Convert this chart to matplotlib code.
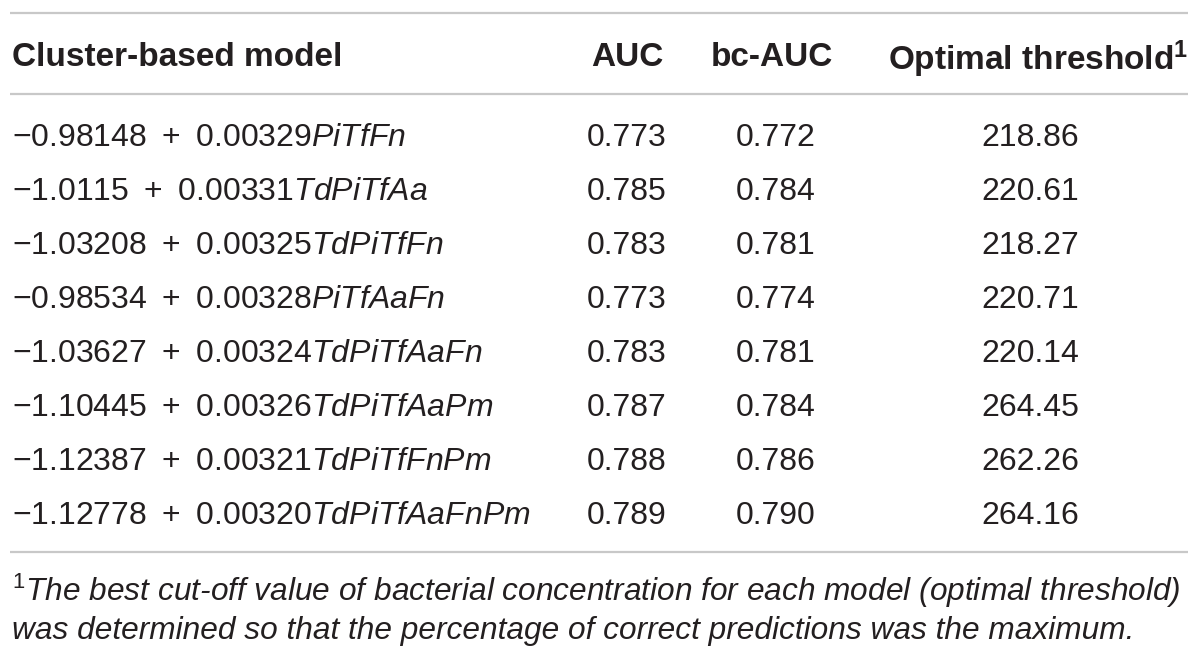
import matplotlib
matplotlib.use("Agg")
import matplotlib.pyplot as plt

plt.rcParams['mathtext.fontset'] = 'custom'
plt.rcParams['mathtext.rm'] = 'Liberation Sans'
plt.rcParams['mathtext.it'] = 'Liberation Sans:italic'
plt.rcParams['mathtext.bf'] = 'Liberation Sans:bold'
plt.rcParams['font.family'] = ['Liberation Sans', 'DejaVu Sans']

headers = ["Cluster-based model", "AUC", "bc-AUC", r"Optimal threshold$^{\mathbf{1}}$"]
intercepts = ["\u22120.98148", "\u22121.0115", "\u22121.03208", "\u22120.98534",
              "\u22121.03627", "\u22121.10445", "\u22121.12387", "\u22121.12778"]
coefs = ["0.00329", "0.00331", "0.00325", "0.00328", "0.00324", "0.00326", "0.00321", "0.00320"]
variables = ["PiTfFn", "TdPiTfAa", "TdPiTfFn", "PiTfAaFn", "TdPiTfAaFn",
             "TdPiTfAaPm", "TdPiTfFnPm", "TdPiTfAaFnPm"]
auc = ["0.773", "0.785", "0.783", "0.773", "0.783", "0.787", "0.788", "0.789"]
bc_auc = ["0.772", "0.784", "0.781", "0.774", "0.781", "0.784", "0.786", "0.790"]
threshold = ["218.86", "220.61", "218.27", "220.71", "220.14", "264.45", "262.26", "264.16"]
footnote = ["The best cut-off value of bacterial concentration for each model (optimal threshold)",
            "was determined so that the percentage of correct predictions was the maximum."]

W, H = 1200, 664
fig = plt.figure(figsize=(12, 6.64), dpi=100)
ax = fig.add_axes([0, 0, 1, 1])
ax.set_xlim(0, W)
ax.set_ylim(H, 0)
ax.axis('off')

TXT = '#231f20'
LINE = '#c8c8c8'
FS_H = 24
FS = 23
FS_F = 22.8

x0, x1 = 10, 1188
for y in (13, 94, 552):
    ax.plot([x0, x1], [y, y], color=LINE, lw=1.6, solid_capstyle='butt')

hy = 54
ax.text(12, hy, headers[0], fontsize=FS_H, fontweight='bold', color=TXT, ha='left', va='center_baseline')
ax.text(627, hy, headers[1], fontsize=FS_H, fontweight='bold', color=TXT, ha='center', va='center_baseline')
ax.text(772, hy, headers[2], fontsize=FS_H, fontweight='bold', color=TXT, ha='center', va='center_baseline')
ax.text(1188, hy, headers[3], fontsize=FS_H, fontweight='bold', color=TXT, ha='right', va='center_baseline')

row_y = [135, 188, 242, 296, 350, 404, 458, 513]
for i, y in enumerate(row_y):
    model = (intercepts[i] + "\u2009 + \u2009" + coefs[i]
             + r"$\mathit{" + variables[i] + "}$")
    ax.text(12, y, model, fontsize=FS, color=TXT, ha='left', va='center_baseline')
    ax.text(627, y, auc[i], fontsize=FS, color=TXT, ha='center', va='center_baseline')
    ax.text(776, y, bc_auc[i], fontsize=FS, color=TXT, ha='center', va='center_baseline')
    ax.text(1030, y, threshold[i], fontsize=FS, color=TXT, ha='center', va='center_baseline')

ax.text(12, 586, r"$^{1}$" + footnote[0], fontsize=FS_F, fontstyle='italic', color=TXT,
        ha='left', va='center_baseline')
ax.text(12, 628, footnote[1], fontsize=FS_F, fontstyle='italic', color=TXT,
        ha='left', va='center_baseline')

fig.savefig("out.png", dpi=100, facecolor='white')
